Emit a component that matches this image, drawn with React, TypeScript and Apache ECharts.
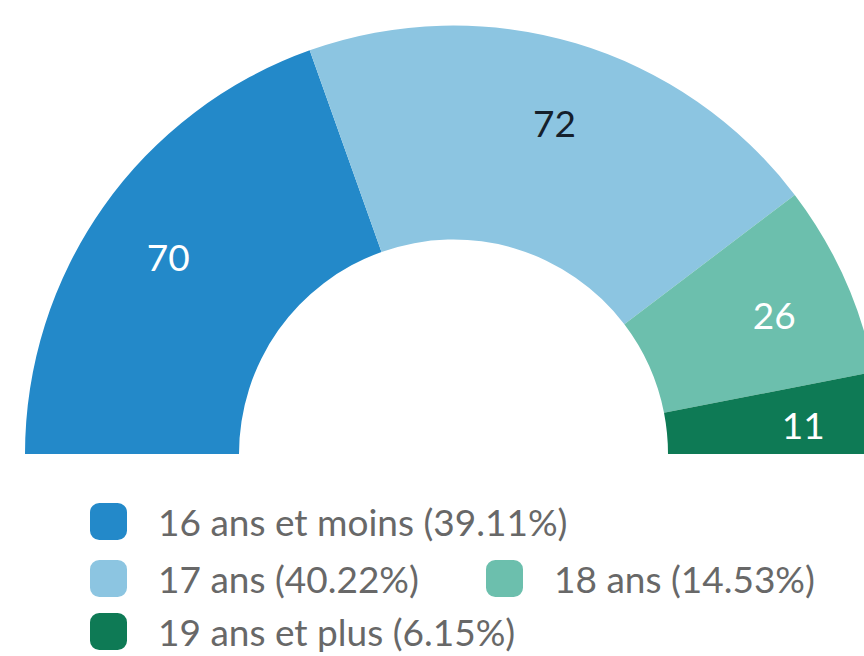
import React, { useEffect, useRef } from "react";
import * as echarts from "echarts";

const categories = ["16 ans et moins", "17 ans", "18 ans", "19 ans et plus"];
const values = [70, 72, 26, 11];
const colors = ["#2389c9", "#8cc5e1", "#6cbfad", "#0e7a55"];
const labelColors = ["#ffffff", "#15202b", "#ffffff", "#ffffff"];

export default function App() {
  const ref = useRef<HTMLDivElement>(null);
  useEffect(() => {
    if (!ref.current) return;
    const chart = echarts.init(ref.current, null, { renderer: "svg" });
    const total = values.reduce((a, b) => a + b, 0);
    const pct: Record<string, string> = {};
    categories.forEach((c, i) => {
      pct[c] = ((values[i] / total) * 100).toFixed(2);
    });
    const font = "Lato, 'Open Sans', sans-serif";
    const center = [453.5, 454];
    const legendPos = [
      { left: 90, top: 503, pad: 4 },
      { left: 90, top: 560, pad: 4 },
      { left: 486, top: 560, pad: 4 },
      { left: 90, top: 613, pad: 0 },
    ];
    chart.setOption({
      animation: false,
      legend: categories.map((c, i) => ({
        data: [c],
        left: legendPos[i].left,
        top: legendPos[i].top,
        orient: "horizontal",
        itemWidth: 37,
        itemHeight: 37,
        icon: "roundRect",
        selectedMode: false,
        padding: 0,
        formatter: (name: string) => `${name} (${pct[name]}%)`,
        textStyle: {
          fontFamily: font,
          fontSize: 37,
          lineHeight: 33,
          color: "#686868",
          padding: [legendPos[i].pad, 0, 0, 26],
        },
      })),
      series: [
        {
          type: "pie",
          center,
          radius: [214.5, 428.5],
          startAngle: 180,
          endAngle: 360,
          clockwise: true,
          label: { show: false },
          labelLine: { show: false },
          silent: true,
          data: categories.map((c, i) => ({
            name: c,
            value: values[i],
            itemStyle: { color: colors[i] },
          })),
        },
        {
          type: "pie",
          center,
          radius: [266, 428.5],
          startAngle: 180,
          endAngle: 360,
          clockwise: true,
          silent: true,
          labelLine: { show: false },
          itemStyle: { color: "rgba(0,0,0,0)" },
          label: {
            show: true,
            position: "inside",
            formatter: "{c}",
            fontFamily: font,
            fontSize: 37,
            offset: [1, 4],
          },
          data: categories.map((c, i) => ({
            name: c,
            value: values[i],
            itemStyle: { color: "rgba(0,0,0,0)" },
            label: { color: labelColors[i] },
          })),
        },
      ],
    });
    return () => chart.dispose();
  }, []);
  return (
    <div
      ref={ref}
      style={{ position: "absolute", left: 0, top: 0, width: 864, height: 656 }}
    />
  );
}
